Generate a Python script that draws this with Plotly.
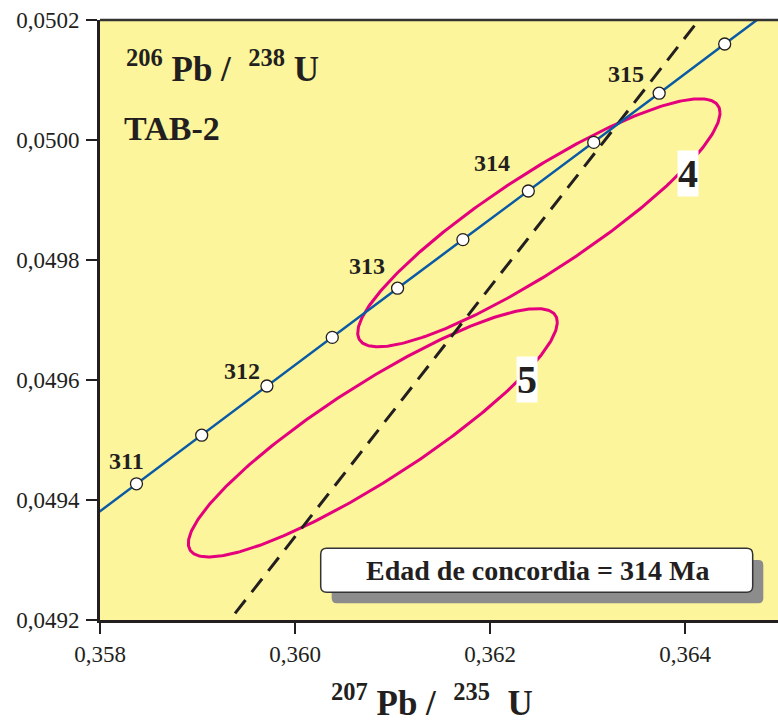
import numpy as np
import plotly.graph_objects as go

# ---------------- data ----------------
AGES_MA = [311, 311.5, 312, 312.5, 313, 313.5, 314, 314.5, 315, 315.5]
PB207_U235 = [0.358374, 0.359043, 0.359712, 0.360382, 0.361052,
              0.361722, 0.362393, 0.363064, 0.363735, 0.364407]
PB206_U238 = [0.049427, 0.049508, 0.049590, 0.049671, 0.049753,
              0.049834, 0.049915, 0.049996, 0.050078, 0.050160]

# concordia curve ends (beyond the axes, clipped)
CONC_START = (0.357973, 0.049378)
CONC_END = (0.364944, 0.050225)

# discordia (dashed) line
DISC_X = [0.359385, 0.364200]
DISC_Y = [0.049211, 0.050212]

# error ellipses: name, centre x, centre y, half-extent x, half-extent y, rho
ELLIPSES = [
    ("4", 0.362501, 0.049862, 0.001858, 0.0002067, 0.887),
    ("5", 0.360798, 0.049512, 0.001892, 0.0002070, 0.890),
]

X_TICKS = [0.358, 0.360, 0.362, 0.364]
X_TICK_TEXT = ["0,358", "0,360", "0,362", "0,364"]
Y_TICKS = [0.0492, 0.0494, 0.0496, 0.0498, 0.0500, 0.0502]
Y_TICK_TEXT = ["0,0492", "0,0494", "0,0496", "0,0498", "0,0500", "0,0502"]

CONCORDIA_AGE = 314

# ---------------- style ----------------
FONT = "Liberation Serif, Times New Roman, serif"
INK = "#231f20"
YELLOW = "#fdf59b"
PINK = "#e4007c"
BLUE = "#0b5aa6"

W, H = 778, 724
ML, MR, MT, MB = 100, 0, 20, 104
PW, PH = W - ML - MR, H - MT - MB

fig = go.Figure()

# ellipses
t = np.linspace(0, 2 * np.pi, 361)
for name, cx, cy, ex, ey, rho in ELLIPSES:
    ex_pts = cx + ex * np.cos(t)
    ey_pts = cy + ey * (rho * np.cos(t) + np.sqrt(1 - rho ** 2) * np.sin(t))
    fig.add_trace(go.Scatter(x=ex_pts, y=ey_pts, mode="lines",
                             line=dict(color=PINK, width=3),
                             hoverinfo="skip", showlegend=False))

# discordia dashed line
fig.add_trace(go.Scatter(x=DISC_X, y=DISC_Y, mode="lines",
                         line=dict(color=INK, width=3, dash="17px,10px"),
                         hoverinfo="skip", showlegend=False))

# concordia line
cx_line = [CONC_START[0]] + PB207_U235 + [CONC_END[0]]
cy_line = [CONC_START[1]] + PB206_U238 + [CONC_END[1]]
fig.add_trace(go.Scatter(x=cx_line, y=cy_line, mode="lines",
                         line=dict(color=BLUE, width=2.5),
                         hoverinfo="skip", showlegend=False))
# age markers
fig.add_trace(go.Scatter(x=PB207_U235, y=PB206_U238, mode="markers",
                         marker=dict(size=12, color="white",
                                     line=dict(color=INK, width=1.3)),
                         text=[str(a) for a in AGES_MA],
                         hoverinfo="text", showlegend=False))

annotations = []
# age labels (integer ages only); label offsets in px
LABEL_SHIFT = {311: (-10, 23), 312: (-25, 15), 313: (-31, 22), 314: (-36, 28), 315: (-33, 19)}
for a, x, y in zip(AGES_MA, PB207_U235, PB206_U238):
    if float(a).is_integer():
        dx, dy = LABEL_SHIFT[int(a)]
        annotations.append(dict(x=x, y=y, xref="x", yref="y", text=f"<b>{int(a)}</b>",
                                showarrow=False, xshift=dx, yshift=dy,
                                xanchor="center", yanchor="middle",
                                font=dict(family=FONT, size=24, color=INK)))

# ellipse labels
ELL_LABEL_POS = {"4": (688, 173.5), "5": (527, 379)}
for name, *_ in ELLIPSES:
    px, py = ELL_LABEL_POS[name]
    annotations.append(dict(x=(px - ML) / PW, y=(MT + PH - py) / PH, xref="paper", yref="paper",
                            xanchor="center", yanchor="middle",
                            text=f"<b>{name}</b>", showarrow=False, bgcolor="white",
                            borderpad=0, font=dict(family=FONT, size=40, color=INK)))

NB = "\u00a0"
# y-title label in the plot
annotations.append(dict(x=(124 - ML) / PW, y=(MT + PH - 66) / PH, xref="paper", yref="paper",
                        xanchor="left", yanchor="middle", showarrow=False,
                        text=f"<b><sup>206</sup>{NB}Pb{NB}/{NB}{NB}<sup>238</sup>{NB}U</b>",
                        font=dict(family=FONT, size=35, color=INK)))
annotations.append(dict(x=(122 - ML) / PW, y=(MT + PH - 128) / PH, xref="paper", yref="paper",
                        xanchor="left", yanchor="middle", showarrow=False,
                        text="<b>TAB-2</b>", font=dict(family=FONT, size=34, color=INK)))
# x-axis title
annotations.append(dict(x=(432 - ML) / PW, y=(MT + PH - 700) / PH, xref="paper", yref="paper",
                        xanchor="center", yanchor="middle", showarrow=False,
                        text=f"<b><sup>207</sup>{NB}Pb{NB}/{NB}{NB}<sup>235</sup>{NB}{NB}U</b>",
                        font=dict(family=FONT, size=35, color=INK)))
# concordia age box text
annotations.append(dict(x=(537 - ML) / PW, y=(MT + PH - 570.3) / PH, xref="paper", yref="paper",
                        xanchor="center", yanchor="middle", showarrow=False,
                        text=f"<b>Edad de concordia = {CONCORDIA_AGE} Ma</b>",
                        font=dict(family=FONT, size=28, color=INK)))


def rounded_path(x0, y0, x1, y1, r):
    """rounded rectangle in pixel coords -> paper path"""
    def P(px, py):
        return f"{(px - ML) / PW:.5f},{(MT + PH - py) / PH:.5f}"
    return (f"M{P(x0 + r, y0)} L{P(x1 - r, y0)} Q{P(x1, y0)} {P(x1, y0 + r)} "
            f"L{P(x1, y1 - r)} Q{P(x1, y1)} {P(x1 - r, y1)} L{P(x0 + r, y1)} "
            f"Q{P(x0, y1)} {P(x0, y1 - r)} L{P(x0, y0 + r)} Q{P(x0, y0)} {P(x0 + r, y0)} Z")


shapes = [
    dict(type="path", xref="paper", yref="paper", path=rounded_path(331.7, 560, 763.3, 603.3, 5),
         fillcolor="#8c8c8c", line=dict(width=0), layer="above"),
    dict(type="path", xref="paper", yref="paper", path=rounded_path(320.7, 548.3, 752.7, 592.3, 6),
         fillcolor="white", line=dict(color="#333333", width=1.5), layer="above"),
    dict(type="line", xref="paper", yref="paper", x0=0, x1=1, y0=1, y1=1,
         line=dict(color="#333333", width=2.7), layer="above"),
]

fig.update_layout(
    width=W, height=H,
    margin=dict(l=ML, r=MR, t=MT, b=MB),
    paper_bgcolor="white", plot_bgcolor=YELLOW,
    showlegend=False,
    annotations=annotations, shapes=shapes,
    xaxis=dict(range=[0.358, 0.358 + PW / 97500.0], tickvals=X_TICKS, ticktext=X_TICK_TEXT,
               ticks="outside", ticklen=11, tickwidth=2, tickcolor=INK,
               showline=True, linewidth=3, linecolor=INK, showgrid=False, zeroline=False,
               tickfont=dict(family=FONT, size=23, color=INK), ticklabelstandoff=0),
    yaxis=dict(range=[0.0492, 0.0502], tickvals=Y_TICKS, ticktext=Y_TICK_TEXT,
               ticks="outside", ticklen=11, tickwidth=2, tickcolor=INK,
               showline=True, linewidth=3, linecolor=INK, showgrid=False, zeroline=False,
               tickfont=dict(family=FONT, size=23, color=INK), ticklabelstandoff=2),
)

POST = ("document.body.style.margin='0';document.body.style.padding='0';"
        "document.body.style.overflow='hidden';"
        "document.documentElement.style.overflow='hidden';")
fig.write_html("out.html", post_script=POST, config={"displayModeBar": False})
